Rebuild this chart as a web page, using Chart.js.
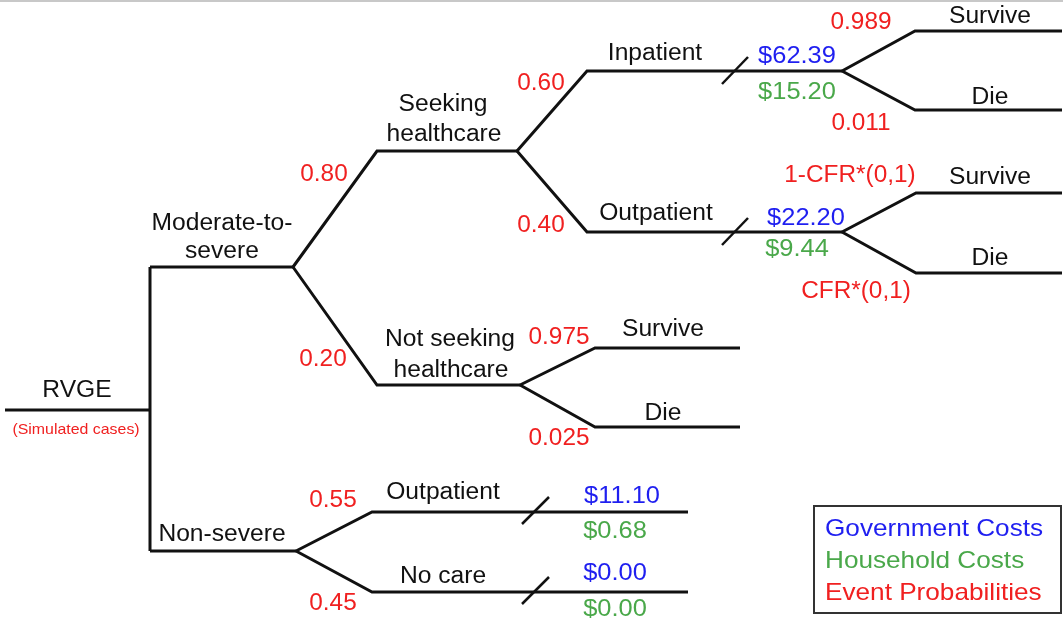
<!DOCTYPE html>
<html>
<head>
<meta charset="utf-8">
<script src="https://cdn.jsdelivr.net/npm/chart.js@4"></script>
<style>
  body { margin: 0; background: #fff; }
  canvas { display: block; }
</style>
</head>
<body>
<canvas id="treeChart" width="1063" height="622"></canvas>
<script>
// tree branches: each path is a polyline (x list, y list) in picture units
const pathX = [
  [5, 150], [150, 150], [150, 293],
  [293, 377, 517], [293, 377, 520],
  [517, 587, 842], [517, 587, 842],
  [842, 915, 1062], [842, 915, 1062],
  [842, 916, 1062], [842, 916, 1062],
  [520, 595, 740], [520, 595, 740],
  [150, 296], [296, 372, 688], [296, 372, 688]
];
const pathY = [
  [410, 410], [267, 551], [267, 267],
  [267, 151, 151], [267, 385, 385],
  [151, 71, 71], [151, 232, 232],
  [71, 31, 31], [71, 110, 110],
  [232, 193, 193], [232, 273, 273],
  [385, 348, 348], [385, 427, 427],
  [551, 551], [551, 512, 512], [551, 592, 592]
];
// cost "break" slashes
const slashX = [[722, 748], [722, 748], [522, 549], [522, 549]];
const slashY = [[84, 57], [245, 218], [524, 497], [604, 577]];

// node / branch names
const nodeNames = ['RVGE', 'Moderate-to-', 'severe', 'Seeking', 'healthcare', 'Inpatient', 'Outpatient',
  'Survive', 'Die', 'Survive', 'Die', 'Not seeking', 'healthcare', 'Survive', 'Die',
  'Non-severe', 'Outpatient', 'No care'];
const nodeX = [77, 222, 222, 443, 444, 655, 656, 990, 990, 990, 990, 450, 451, 663, 663, 222, 443, 443];
const nodeY = [389, 222, 250, 103, 133, 52, 212, 15, 96, 176, 257, 338, 369, 328, 412, 533, 491, 575];

// event probabilities
const probLabels = ['0.80', '0.60', '0.40', '0.989', '0.011', '1-CFR*(0,1)', 'CFR*(0,1)',
  '0.20', '0.975', '0.025', '0.55', '0.45'];
const probX = [324, 541, 541, 861, 861, 850, 856, 323, 559, 559, 333, 333];
const probY = [173, 82, 224, 21, 122, 174, 290, 358, 336, 437, 499, 602];

// government costs
const govCosts = ['$62.39', '$22.20', '$11.10', '$0.00'];
const govX = [797, 806, 622, 615];
const govY = [55, 217, 495, 572];

// household costs
const houseCosts = ['$15.20', '$9.44', '$0.68', '$0.00'];
const houseX = [797, 797, 615, 615];
const houseY = [91, 248, 530, 608];

const legendLabels = ['Government Costs', 'Household Costs', 'Event Probabilities'];

const BLACK = '#111';
const RED = '#f02020';
const BLUE = '#1f1ff0';
const GREEN = '#4aa84a';
const FONT = '"Liberation Sans", Arial, sans-serif';

function toPoints(xs, ys) {
  return xs.map((x, i) => ({ x: x, y: ys[i] }));
}

const datasets = [];
datasets.push({
  data: [{ x: 0, y: 1 }, { x: 1063, y: 1 }],
  borderColor: '#c8c8c8', borderWidth: 2
});
pathX.forEach((xs, i) => {
  datasets.push({ data: toPoints(xs, pathY[i]), borderColor: BLACK, borderWidth: 3 });
});
slashX.forEach((xs, i) => {
  datasets.push({ data: toPoints(xs, slashY[i]), borderColor: BLACK, borderWidth: 2.5 });
});
datasets.forEach(d => {
  d.showLine = true;
  d.pointRadius = 0;
  d.fill = false;
  d.tension = 0;
  d.borderJoinStyle = 'miter';
});

function drawText(ctx, text, x, y, color, size, stretch, align) {
  ctx.save();
  ctx.translate(x, y + 1.5);
  ctx.scale(stretch, 1);
  ctx.font = size + 'px ' + FONT;
  ctx.fillStyle = color;
  ctx.textAlign = align || 'center';
  ctx.textBaseline = 'middle';
  ctx.fillText(text, 0, 0);
  ctx.restore();
}

const textPlugin = {
  id: 'treeText',
  afterDraw(chart) {
    const ctx = chart.ctx;
    const sx = chart.scales.x, sy = chart.scales.y;
    const px = v => sx.getPixelForValue(v);
    const py = v => sy.getPixelForValue(v);

    nodeNames.forEach((t, i) => drawText(ctx, t, px(nodeX[i]), py(nodeY[i]), BLACK, 23, 1.07));
    drawText(ctx, '(Simulated cases)', px(76), py(428), RED, 15, 1.06);
    probLabels.forEach((t, i) => drawText(ctx, t, px(probX[i]), py(probY[i]), RED, 23, 1.06));
    govCosts.forEach((t, i) => drawText(ctx, t, px(govX[i]), py(govY[i]), BLUE, 24, 1.06));
    houseCosts.forEach((t, i) => drawText(ctx, t, px(houseX[i]), py(houseY[i]), GREEN, 24, 1.06));

    // legend box
    ctx.save();
    ctx.strokeStyle = '#333';
    ctx.lineWidth = 2;
    ctx.strokeRect(px(814), py(506), px(1061) - px(814), py(613) - py(506));
    ctx.restore();
    const legendColors = [BLUE, GREEN, RED];
    legendLabels.forEach((t, i) => drawText(ctx, t, px(825), py(528 + i * 32), legendColors[i], 24, 1.09, 'left'));
  }
};

window.onload = function() {
  const ctx = document.getElementById('treeChart').getContext('2d');
  new Chart(ctx, {
    type: 'scatter',
    data: { datasets: datasets },
    options: {
      responsive: false,
      animation: false,
      layout: { padding: 0 },
      plugins: { legend: { display: false }, tooltip: { enabled: false } },
      scales: {
        x: { type: 'linear', min: 0, max: 1063, display: false },
        y: { type: 'linear', min: 0, max: 622, reverse: true, display: false }
      }
    },
    plugins: [textPlugin]
  });
};
</script>
</body>
</html>
